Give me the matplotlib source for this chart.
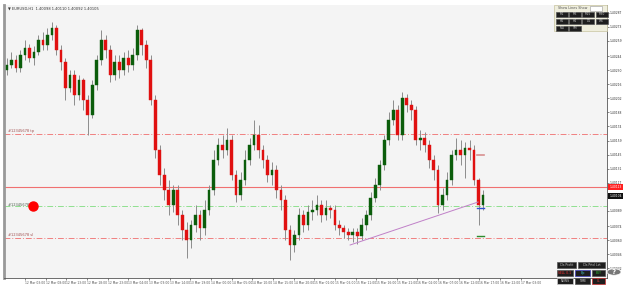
import numpy as np
import matplotlib
matplotlib.use("Agg")
import matplotlib.pyplot as plt
from matplotlib.patches import Rectangle, Circle

# EURUSD H1 candles, prices in points above 1.40000
opens = [230, 235, 240, 232, 245, 252, 242, 248, 260, 255, 265, 272, 250, 238, 212, 225, 205, 220, 200, 185,
         215, 240, 260, 250, 225, 238, 230, 242, 235, 245, 270, 255, 240, 200, 150, 125, 110, 95, 110, 85,
         70, 60, 75, 85, 72, 90, 110, 140, 155, 150, 160, 125, 105, 120, 140, 155, 165, 150, 140, 125,
         130, 110, 100, 70, 55, 65, 85, 75, 88, 90, 95, 85, 92, 90, 75, 72, 68, 65, 68, 64,
         75, 85, 102, 115, 135, 160, 180, 190, 165, 202, 195, 190, 160, 162, 155, 140, 130, 95, 105, 120,
         145, 150, 145, 152, 150, 120, 95]
closes = [235, 240, 232, 245, 252, 242, 248, 260, 255, 265, 272, 250, 238, 212, 225, 205, 220, 200, 185, 215,
          240, 260, 250, 225, 238, 230, 242, 235, 245, 270, 255, 240, 200, 150, 125, 110, 95, 110, 85, 70,
          60, 75, 85, 72, 90, 110, 140, 155, 150, 160, 125, 105, 120, 140, 155, 165, 150, 140, 125, 130,
          110, 100, 70, 55, 65, 85, 75, 88, 90, 95, 85, 92, 90, 75, 72, 68, 65, 68, 64, 75,
          85, 102, 115, 135, 160, 180, 190, 165, 202, 195, 190, 160, 162, 155, 140, 130, 95, 105, 120, 145,
          150, 145, 152, 150, 120, 95, 105]
highs = [242, 248, 245, 250, 260, 256, 254, 265, 268, 272, 278, 275, 255, 242, 230, 230, 225, 222, 205, 220,
         245, 270, 265, 255, 245, 245, 248, 250, 252, 275, 272, 260, 245, 205, 155, 132, 120, 115, 115, 90,
         78, 80, 95, 90, 100, 115, 150, 162, 165, 172, 165, 130, 128, 150, 162, 180, 175, 155, 145, 138,
         135, 115, 105, 75, 70, 92, 90, 95, 100, 105, 100, 100, 95, 95, 80, 75, 72, 72, 72, 82,
         90, 108, 122, 140, 165, 188, 200, 195, 208, 206, 200, 194, 170, 168, 160, 145, 135, 112, 128, 150,
         162, 160, 158, 160, 155, 122, 110]
lows = [225, 232, 228, 228, 240, 238, 235, 245, 250, 250, 260, 245, 230, 200, 208, 195, 200, 190, 165, 182,
        210, 235, 242, 218, 220, 222, 225, 228, 230, 240, 245, 232, 195, 142, 115, 100, 85, 88, 75, 60,
        42, 52, 68, 60, 65, 85, 105, 135, 142, 145, 120, 98, 100, 115, 135, 150, 142, 132, 118, 115,
        102, 90, 60, 40, 48, 60, 68, 70, 80, 85, 78, 80, 82, 70, 65, 62, 60, 58, 56, 60,
        70, 80, 98, 110, 130, 155, 175, 160, 160, 188, 180, 155, 150, 148, 132, 120, 87, 90, 100, 115,
        140, 135, 122, 140, 115, 75, 90]

price_ticks = [287, 273, 259, 244, 230, 216, 202, 188, 174, 159, 145, 131, 117, 103, 89, 74, 60, 46, 32]
time_labels = ["12 Mar 03:00", "12 Mar 08:00", "12 Mar 13:00", "12 Mar 18:00", "12 Mar 23:00",
               "13 Mar 04:00", "13 Mar 09:00", "13 Mar 14:00", "13 Mar 19:00", "14 Mar 00:00",
               "14 Mar 05:00", "14 Mar 10:00", "14 Mar 15:00", "14 Mar 20:00", "15 Mar 01:00",
               "15 Mar 06:00", "15 Mar 11:00", "15 Mar 16:00", "15 Mar 21:00", "16 Mar 02:00",
               "16 Mar 07:00", "16 Mar 12:00", "16 Mar 17:00", "16 Mar 22:00", "17 Mar 03:00"]

tp_level = 166
bid_level = 113
ask_level = 104
entry_level = 94
sl_level = 62
trend_start = (76.4, 55)
trend_end = (104.9, 98)

W, H = 625, 287
fig = plt.figure(figsize=(W / 100, H / 100), dpi=100)
fig.patch.set_facecolor("#ffffff")


def fx(px):
    return px / W


def fy(py):
    return 1 - py / H


ax = fig.add_axes([fx(4), fy(278), fx(607) - fx(4), fy(5) - fy(278)])
ax.set_facecolor("#f4f4f4")

o = np.array(opens)
c = np.array(closes)
hi = np.array(highs)
lo = np.array(lows)
idx = np.arange(len(o))
up = c >= o

ax.vlines(idx, lo, hi, color="#8c8c8c", lw=0.7, zorder=2)
ax.bar(idx[up], c[up] - o[up], bottom=o[up], width=0.6, color="#0b5d0b", edgecolor="#0b5d0b", lw=0.3, zorder=3)
ax.bar(idx[~up], o[~up] - c[~up], bottom=c[~up], width=0.6, color="#e01010", edgecolor="#e01010", lw=0.3, zorder=3)

# levels
ax.axhline(tp_level, color="#f08080", lw=0.7, ls=(0, (6, 2, 1, 2)), zorder=1)
ax.axhline(sl_level, color="#f08080", lw=0.7, ls=(0, (6, 2, 1, 2)), zorder=1)
ax.axhline(entry_level, color="#8fe08f", lw=0.7, ls=(0, (6, 2, 1, 2)), zorder=1)
ax.axhline(bid_level, color="#f07070", lw=0.8, zorder=1)
ax.plot([trend_start[0], trend_end[0]], [trend_start[1], trend_end[1]], color="#c080c8", lw=0.7, zorder=4)
ax.plot([5.8], [entry_level], "o", color="#ff0000", ms=6.5, zorder=5)
ax.text(0.2, tp_level + 1, "#12345678 tp", fontsize=2.6, color="#a05050", va="bottom")
ax.text(0.2, entry_level + 1, "#12345678 sell", fontsize=2.6, color="#506050", va="center")
ax.text(0.2, sl_level + 1, "#12345678 sl", fontsize=2.6, color="#a05050", va="bottom")
ax.plot([104.6, 106.2], [145, 145], color="#d89090", lw=1.2, zorder=4)
ax.plot([104.6, 106.2], [64, 64], color="#2e8b2e", lw=1.0, zorder=4)
ax.plot([104.6, 106.2], [92, 92], color="#3050d0", lw=1.0, zorder=4)

ax.set_xlim(-0.67, 133.6)
ax.set_ylim(22, 295)

ax.yaxis.tick_right()
ax.set_yticks(price_ticks)
ax.set_yticklabels(["1.40%03d" % t for t in price_ticks], fontsize=2.2, color="#333333")
ax.set_xticks(np.arange(len(time_labels)) * 4.6 + 4.0)
ax.set_xticklabels(time_labels, fontsize=2.2, color="#555555", ha="left")
ax.tick_params(axis="both", length=1.5, width=0.5, color="#555555", pad=0.6)
ax.spines["top"].set_visible(False)
ax.spines["left"].set_color("#999999")
ax.spines["left"].set_linewidth(2)
ax.spines["right"].set_color("#555555")
ax.spines["right"].set_linewidth(0.6)
ax.spines["bottom"].set_color("#555555")
ax.spines["bottom"].set_linewidth(0.6)

# price boxes on axis
ax.text(1.004, bid_level, "1.40%03d" % bid_level, transform=ax.get_yaxis_transform(), fontsize=2.2,
        color="white", va="center", bbox=dict(boxstyle="square,pad=0.3", fc="#ff2020", ec="none"))
ax.text(1.004, ask_level, "1.40%03d" % ask_level, transform=ax.get_yaxis_transform(), fontsize=2.2,
        color="white", va="center", bbox=dict(boxstyle="square,pad=0.3", fc="#111111", ec="none"))

fig.text(fx(8), fy(9), "\u25bc EURUSD,H1  1.40098 1.40110 1.40092 1.40105", fontsize=2.6, color="#333333", va="center")


def button(x, y, w, h, label, fc="#1e1e1e", ec="#555555", tc="#cccccc"):
    fig.add_artist(Rectangle((fx(x), fy(y + h)), w / W, h / H, transform=fig.transFigure,
                             fc=fc, ec=ec, lw=0.5, zorder=5))
    fig.text(fx(x + w / 2), fy(y + h / 2), label, fontsize=2.2, color=tc, ha="center", va="center", zorder=6)


# top-right panel
fig.add_artist(Rectangle((fx(554), fy(31)), 53 / W, 26 / H, transform=fig.transFigure,
                         fc="#efeedd", ec="#c8c4a0", lw=0.5))
fig.text(fx(558), fy(8), "Show Lines Show", fontsize=2.4, color="#555555", va="center")
fig.add_artist(Rectangle((fx(590), fy(10.5)), 12 / W, 5 / H, transform=fig.transFigure,
                         fc="#ffffff", ec="#999999", lw=0.4))
for i, lab in enumerate(["M1", "M5", "M15", "M30"]):
    button(556 + i * 13.2, 11.5, 12, 5.5, lab)
for i, lab in enumerate(["H1", "H4", "D1", "W1"]):
    button(556 + i * 13.2, 18.5, 12, 5.5, lab)
for i, lab in enumerate(["MN", "5M"]):
    button(556 + i * 13.2, 25.5, 12, 5.5, lab)

# bottom-right panel
button(557, 262, 19, 6, "Cls Profit")
button(578, 262, 27, 6, "Cls Prtcl Lot")
button(557, 270, 16, 6, "SELL 0.1", tc="#ff3030")
button(575, 270, 15, 6, "Pip", ec="#4040c0", tc="#40c0c0")
button(592, 270, 13, 6, "BUY", tc="#30c030")
button(557, 278, 16, 6, "NEWS", ec="#cccccc")
button(575, 278, 15, 6, "TIME")
button(592, 278, 13, 6, "CL", ec="#cc3030", tc="#ff4040")
fig.add_artist(Circle((fx(614), fy(272)), 7 / W, transform=fig.transFigure, fc="#777777", ec="white", lw=0.5))
fig.text(fx(614), fy(272), "?", fontsize=5, color="white", ha="center", va="center", weight="bold")

fig.savefig("out.png", dpi=100, facecolor=fig.get_facecolor())
